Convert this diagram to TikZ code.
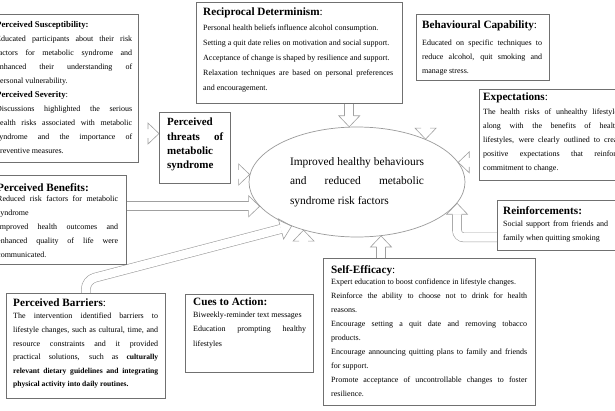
\documentclass[tikz,border=0pt]{standalone}
\usepackage{fontspec}
\setmainfont{Liberation Serif}
\usetikzlibrary{calc,shapes.geometric}
\definecolor{boxgray}{HTML}{707070}
\definecolor{arrgray}{HTML}{A0A0A0}
\definecolor{ellgray}{HTML}{9A9A9A}
\pgfdeclarelayer{background}
\pgfsetlayers{background,main}
\newcommand\bodyf{\fontsize{8}{14}\selectfont}
\newcommand\jl[1]{\hbox to\hsize{#1}}
\newcommand\lastl[1]{\hbox{#1}}
\newcommand\tit[1]{\hbox{\fontsize{11.2}{14}\selectfont\bfseries #1}}
\newcommand\stit[1]{\hbox{\fontsize{8.8}{14}\selectfont\bfseries #1}}
\newcommand\hhead[2]{%
  \coordinate (hb) at ($(#2)!11pt!(#1)$);
  \filldraw[hd] ($(hb)!4.5pt!90:(#2)$) -- ($(hb)!10.5pt!90:(#2)$) -- (#2)
     -- ($(hb)!10.5pt!-90:(#2)$) -- ($(hb)!4.5pt!-90:(#2)$);}
\newcommand\barrow[2]{%
  \coordinate (hb) at ($(#2)!11pt!(#1)$);
  \draw[dbl] (#1) -- (hb);
  \hhead{#1}{#2}}
\begin{document}
\begin{tikzpicture}[x=1pt,y=-1pt,
  box/.style={draw=boxgray, line width=0.8pt, fill=white, inner sep=0pt, anchor=north west},
  txt/.style={inner sep=0pt, anchor=north west},
  dbl/.style={draw=arrgray, line width=0.6pt, double=white, double distance=8.4pt},
  hd/.style={draw=arrgray, line width=0.6pt, fill=white, line join=miter}]
\useasboundingbox (0,0) rectangle (615,410);

% boxes
\node[box, minimum width=148pt, minimum height=148pt] (sus) at (-10,14) {};
\node[box, minimum width=206pt, minimum height=101.5pt] (rec) at (196,1.5) {};
\node[box, minimum width=133pt, minimum height=66pt] (bc) at (416,14) {};
\node[box, minimum width=146pt, minimum height=91pt] (exp) at (479,89) {};
\node[box, minimum width=71pt, minimum height=71pt] (thr) at (159,112) {};
\node[box, minimum width=136pt, minimum height=89pt] (ben) at (-10,175) {};
\node[box, minimum width=128pt, minimum height=50pt] (rei) at (497,200) {};
\node[box, minimum width=159pt, minimum height=105pt] (bar) at (6,293) {};
\node[box, minimum width=128pt, minimum height=78pt] (cue) at (185,294) {};
\node[box, minimum width=212pt, minimum height=147pt] (sef) at (323,258) {};

% ellipse
\node[draw=ellgray, line width=0.7pt, ellipse, minimum width=216pt, minimum height=110pt, inner sep=0pt] (ell) at (357,182)
 {\vbox{\hsize=134pt\fontsize{11.4}{19.5}\selectfont
  \jl{Improved healthy behaviours}
  \jl{and reduced metabolic}
  \lastl{syndrome risk factors}}};

% texts
\node[txt] (sust) at (-4,20.7) {\vbox{\hsize=136pt\bodyf
  \stit{Perceived Susceptibility:}
  \jl{Educated participants about their risk}
  \jl{factors for metabolic syndrome and}
  \jl{enhanced their understanding of}
  \lastl{personal vulnerability.}
  \stit{Perceived Severity\mdseries:}
  \jl{Discussions highlighted the serious}
  \jl{health risks associated with metabolic}
  \jl{syndrome and the importance of}
  \lastl{preventive measures.}}};

\node[txt] (rect) at (203,8) {\vbox{\hsize=190pt\bodyf\baselineskip=15pt
  \tit{Reciprocal Determinism\mdseries:}
  \lastl{Personal health beliefs influence alcohol consumption.}
  \lastl{Setting a quit date relies on motivation and social support.}
  \lastl{Acceptance of change is shaped by resilience and support.}
  \jl{Relaxation techniques are based on personal preferences}
  \lastl{and encouragement.}}};

\node[txt] (bct) at (422,21) {\vbox{\hsize=120pt\bodyf
  \tit{Behavioural Capability\mdseries:}
  \vskip2.5pt
  \jl{Educated on specific techniques to}
  \jl{reduce alcohol, quit smoking and}
  \lastl{manage stress.}}};

\node[txt] (expt) at (483,93) {\vbox{\hsize=140pt\bodyf
  \tit{Expectations\mdseries:}
  \vskip-0.5pt
  \jl{The health risks of unhealthy lifestyles,}
  \jl{along with the benefits of healthy}
  \jl{lifestyles, were clearly outlined to create}
  \jl{positive expectations that reinforce}
  \lastl{commitment to change.}}};

\node[txt] (thrt) at (167,118) {\vbox{\hsize=56pt\fontsize{11}{14.3}\selectfont\bfseries
  \lastl{Perceived}
  \jl{threats of}
  \lastl{metabolic}
  \lastl{syndrome}}};

\node[txt] (bent) at (-3,183) {\vbox{\hsize=121pt\bodyf
  \tit{Perceived Benefits:}
  \vskip-3.5pt
  \jl{Reduced risk factors for metabolic}
  \lastl{syndrome}
  \jl{Improved health outcomes and}
  \jl{enhanced quality of life were}
  \lastl{communicated.}}};

\node[txt] (reit) at (503,206) {\vbox{\hsize=105pt\bodyf
  \tit{Reinforcements:}
  \vskip-1.5pt
  \jl{Social support from friends and}
  \lastl{family when quitting smoking}}};

\node[txt] (bart) at (13,299) {\vbox{\hsize=145pt\bodyf\baselineskip=13.6pt
  \tit{Perceived Barriers\mdseries:}
  \vskip-1.6pt
  \jl{The intervention identified barriers to}
  \jl{lifestyle changes, such as cultural, time, and}
  \jl{resource constraints and it provided}
  \jl{practical solutions, such as {\fontsize{7.6}{13.6}\selectfont\bfseries culturally}}
  \jl{\fontsize{7.6}{13.6}\selectfont\bfseries relevant dietary guidelines and integrating}
  \lastl{\fontsize{7.6}{13.6}\selectfont\bfseries physical activity into daily routines.}}};

\node[txt] (cuet) at (193,298) {\vbox{\hsize=113pt\bodyf\baselineskip=14.5pt
  \tit{Cues to Action:}
  \vskip-3pt
  \lastl{Biweekly-reminder text messages}
  \jl{Education prompting healthy}
  \lastl{lifestyles}}};

\node[txt] (seft) at (331,265) {\vbox{\hsize=196pt\bodyf
  \tit{Self-Efficacy\mdseries:}
  \vskip-2.5pt
  \lastl{Expert education to boost confidence in lifestyle changes.}
  \jl{Reinforce the ability to choose not to drink for health}
  \lastl{reasons.}
  \jl{Encourage setting a quit date and removing tobacco}
  \lastl{products.}
  \jl{Encourage announcing quitting plans to family and friends}
  \lastl{for support.}
  \jl{Promote acceptance of uncontrollable changes to foster}
  \lastl{resilience.}}};

% arrows
\begin{pgfonlayer}{background}
\fill[white] (0,0) rectangle (615,410);
\coordinate (t1) at ($(thr.north west)!0.3!(thr.south west)$);
\barrow{sus.east |- t1}{t1}
\barrow{ell.98 |- rec.south}{ell.98}
\barrow{ell.32 |- bc.south}{ell.32}
\barrow{ell.11 -| exp.west}{ell.11}
\barrow{ell.176 -| thr.east}{ell.176}
\barrow{ell.194 -| ben.east}{ell.194}
\barrow{ell.222 |- cue.north}{ell.222}
\barrow{ell.294 |- sef.north}{ell.294}
% barriers
\coordinate (bb) at ($(bar.north)+(0,-13)$);
\coordinate (hb) at ($(ell.214)!11pt!(bb)$);
\draw[dbl, rounded corners=9pt] (bar.north) -- (bb) -- (hb);
\hhead{bb}{ell.214}
% reinforcements
\coordinate (rs) at ($(rei.west)+(0,12)$);
\coordinate (rc) at (rs -| ell.348);
\coordinate (hb) at ($(ell.348)!11pt!(rc)$);
\draw[dbl, rounded corners=7pt] (rs) -- (rc) -- (hb);
\hhead{rc}{ell.348}
\end{pgfonlayer}
\end{tikzpicture}
\end{document}
